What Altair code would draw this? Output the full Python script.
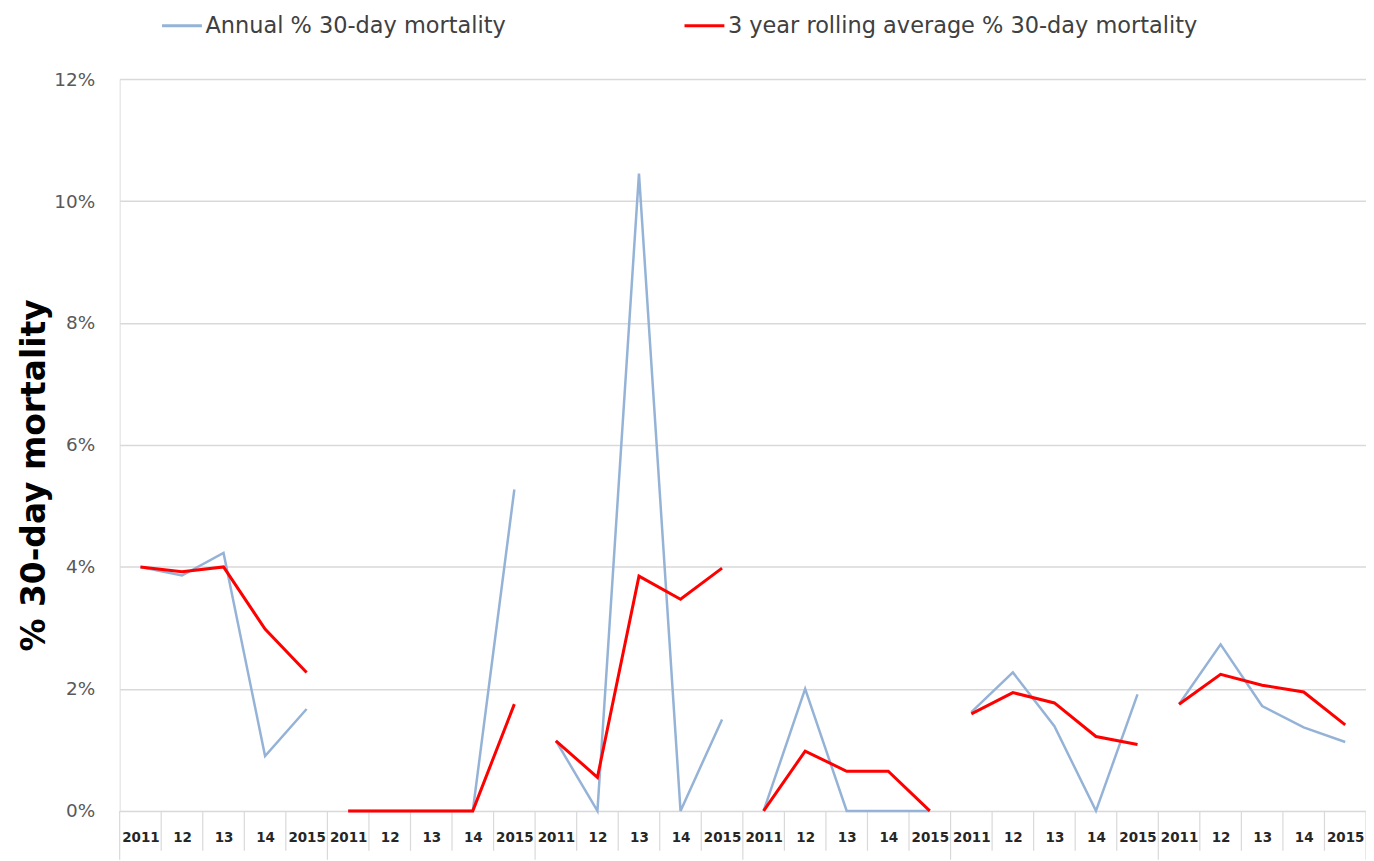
import altair as alt
import pandas as pd

# ---- data ----
year_labels = ["2011", "12", "13", "14", "2015"]
n_groups = 6
annual_pct = [4.00, 3.86, 4.23, 0.90, 1.67,
              0.00, 0.00, 0.00, 0.00, 5.27,
              1.15, 0.00, 10.45, 0.00, 1.50,
              0.00, 2.00, 0.00, 0.00, 0.00,
              1.62, 2.27, 1.39, 0.00, 1.91,
              1.75, 2.73, 1.72, 1.37, 1.13]
rolling_pct = [4.00, 3.92, 4.00, 2.98, 2.27,
               0.00, 0.00, 0.00, 0.00, 1.75,
               1.15, 0.55, 3.85, 3.47, 3.98,
               0.00, 0.98, 0.65, 0.65, 0.00,
               1.59, 1.94, 1.77, 1.22, 1.09,
               1.75, 2.24, 2.06, 1.95, 1.41]
series_names = ["Annual % 30-day mortality", "3 year rolling average % 30-day mortality"]
series_colors = ["#95B3D7", "#FF0000"]
y_ticks = [0, 0.02, 0.04, 0.06, 0.08, 0.10, 0.12]

FONT = "DejaVu Sans"
W, H = 1250, 734
n_cat = n_groups * len(year_labels)

rows = []
for i in range(n_cat):
    rows.append({"pos": i + 0.5, "grp": i // 5, "value": annual_pct[i] / 100, "series": series_names[0]})
for i in range(n_cat):
    rows.append({"pos": i + 0.5, "grp": i // 5, "value": rolling_pct[i] / 100, "series": series_names[1]})
df = pd.DataFrame(rows)

sep = pd.DataFrame({"pos": list(range(n_cat + 1))})
sep["long"] = sep["pos"] % 5 == 0

label_arr = "[" + ",".join("'%s'" % s for s in year_labels) + "]"

x_scale = alt.Scale(domain=[0, n_cat], nice=False, zero=False)
y_scale = alt.Scale(domain=[0, 0.12], nice=False)
color_scale = alt.Scale(domain=series_names, range=series_colors)

x_enc = alt.X("pos:Q", scale=x_scale, axis=alt.Axis(
    values=[i + 0.5 for i in range(n_cat)],
    labelExpr=label_arr + "[floor(datum.value) % 5]",
    title=None, grid=False, ticks=False, domain=False,
    labelFont=FONT, labelFontSize=13.5, labelFontWeight="bold", labelColor="#262626",
    labelPadding=20, labelOverlap=False, labelFlush=False, labelBound=False))

y_enc = alt.Y("value:Q", scale=y_scale, axis=alt.Axis(
    values=y_ticks, format=".0%",
    title="% 30-day mortality", titleFont=FONT, titleFontSize=33, titleFontWeight="bold",
    titleColor="#000000", titleAngle=270, titleX=-85, titleY=397, titleAlign="center",
    titleBaseline="middle",
    labelFont=FONT, labelFontSize=18.5, labelColor="#595959", labelPadding=25,
    domain=False, ticks=False, grid=True, gridColor="#D9D9D9", gridWidth=1.5))

color_enc = alt.Color("series:N", scale=color_scale, title=None, legend=alt.Legend(
    orient="none", legendX=41, legendY=-75, direction="horizontal", columns=2,
    symbolType="stroke", symbolSize=1600, symbolStrokeWidth=3,
    labelFont=FONT, labelFontSize=22.5, labelColor="#404040", labelOffset=2,
    columnPadding=172, labelLimit=700))

blue = alt.Chart(df).transform_filter(alt.datum.series == series_names[0]).mark_line(
    strokeWidth=2.5).encode(x=x_enc, y=y_enc, color=color_enc, detail="grp:N")
red = alt.Chart(df).transform_filter(alt.datum.series == series_names[1]).mark_line(
    strokeWidth=3).encode(x=x_enc, y=y_enc, color=color_enc, detail="grp:N")

short_sep = alt.Chart(sep).transform_filter("!datum.long").mark_rule(
    color="#D9D9D9", strokeWidth=1.2).encode(
    x=alt.X("pos:Q", scale=x_scale), y=alt.value(H), y2=alt.value(H + 40))
long_sep = alt.Chart(sep).transform_filter("datum.long").mark_rule(
    color="#D9D9D9", strokeWidth=1.2).encode(
    x=alt.X("pos:Q", scale=x_scale), y=alt.value(H), y2=alt.value(H + 49))

chart = alt.layer(short_sep, long_sep, blue, red).properties(
    width=W, height=H,
    autosize=alt.AutoSizeParams(type="none"),
    padding={"left": 112, "top": 70, "right": 0, "bottom": 49},
).configure_view(stroke=None).configure(background="white")

chart.save("out.html", embed_options={"renderer": "svg", "actions": False})
